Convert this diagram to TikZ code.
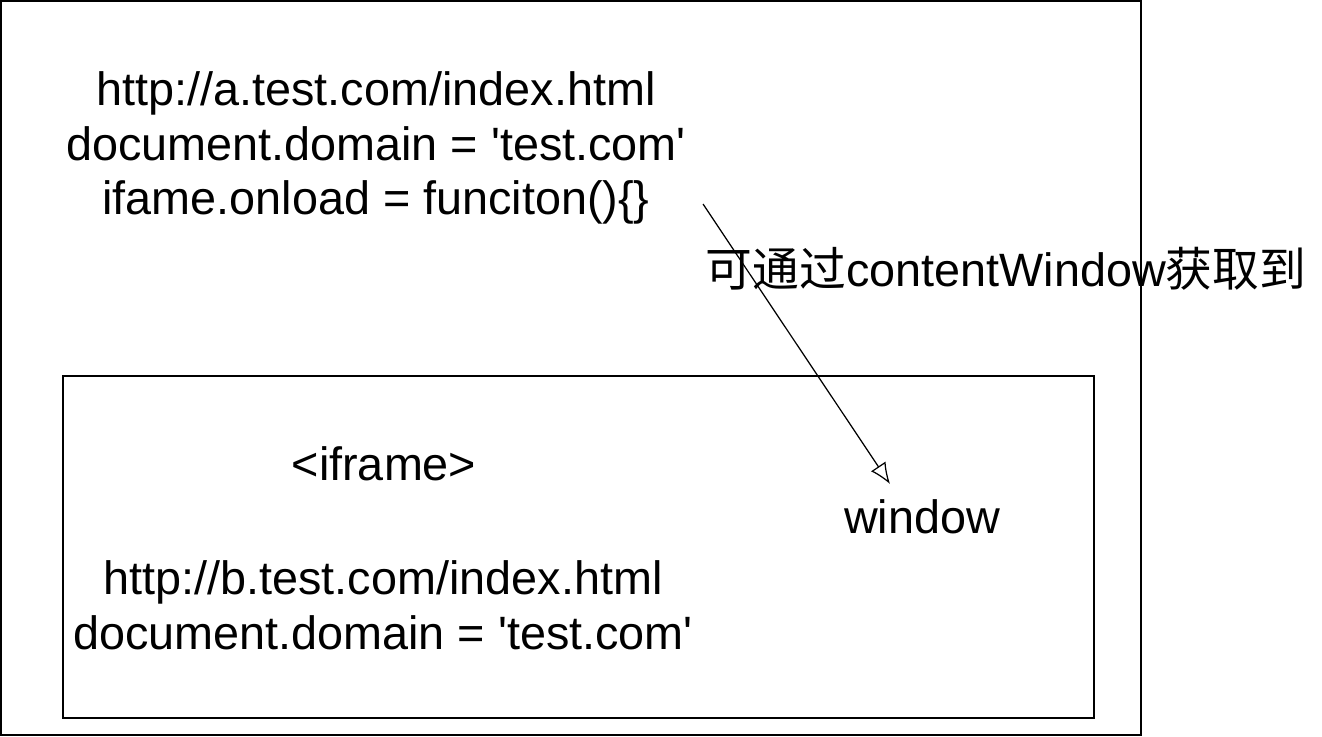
\documentclass[tikz,border=0pt]{standalone}
\usepackage{fontspec}
\setmainfont{Liberation Sans}
\newfontfamily\cjk{Noto Sans CJK SC}
\usetikzlibrary{arrows.meta}
\begin{document}
\begin{tikzpicture}[x=0.01cm, y=-0.01cm, every node/.style={font=\fontsize{13.3}{15.6}\selectfont, align=center, inner sep=0pt}]
	\useasboundingbox (0,0) rectangle (1322,736);
	\draw[line width=0.45pt] (1,1) rectangle (1141,735);
	\draw[line width=0.45pt] (63,376) rectangle (1094,718);
	\node (parent) at (376,148) {http://a.test.com/index.html\\document.domain = \textquotesingle test.com\textquotesingle\\ifame.onload = funciton()\{\}};
	\node (via) at (1006,269) {{\cjk 可通过}contentWindow{\cjk 获取到}};
	\node (tag) at (384,464) {<iframe>};
	\node (win) at (922,517) {window};
	\node (child) at (383,605) {http://b.test.com/index.html\\document.domain = \textquotesingle test.com\textquotesingle};
	\coordinate (from) at (703,204);
	\coordinate (to) at (890,484);
	\draw[line width=0.35pt, -{Latex[open,length=6pt,width=5pt]}] (from) -- (to);
\end{tikzpicture}
\end{document}
